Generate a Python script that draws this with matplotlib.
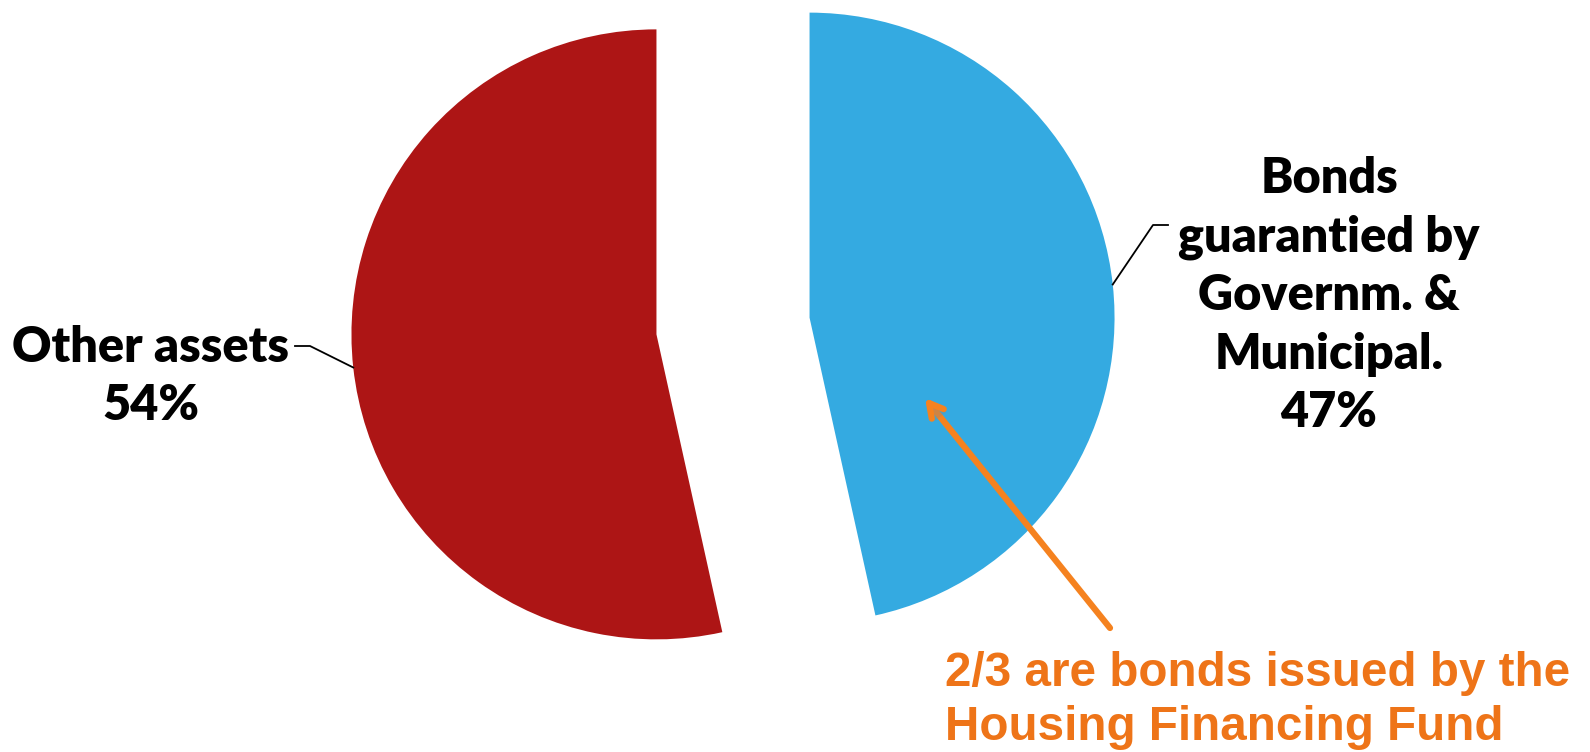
import numpy as np
import matplotlib
matplotlib.use("Agg")
import matplotlib.pyplot as plt
import matplotlib.patheffects as pe

# asset split, in percent
labels = ["Bonds\nguarantied by\nGovernm. &\nMunicipal.", "Other assets"]
values = [47, 54]
colors = ["#34AAE1", "#AD1515"]

note = "2/3 are bonds issued by the\nHousing Financing Fund"

fig = plt.figure(figsize=(15.9, 7.52), dpi=100)
ax = fig.add_axes([0, 0, 1, 1])

# work in pixel units, y pointing down
wedges, _ = ax.pie(values, colors=colors, startangle=-90, counterclock=True,
                   explode=[77, 77], center=(733, 326), radius=305,
                   wedgeprops=dict(linewidth=0))
ax.set_xlim(0, 1590)
ax.set_ylim(752, 0)
ax.set_aspect("equal")
ax.axis("off")

lab_font = dict(family="Lato", weight="heavy", size=35, color="black")


def edge_point(w):
    mid = np.deg2rad((w.theta1 + w.theta2) / 2)
    cx, cy = w.center
    return cx + w.r * np.cos(mid), cy + w.r * np.sin(mid)


# blue slice: leader going up-right to the label block
bx, by = edge_point(wedges[0])
ax.plot([bx, 1153, 1168], [by, 225, 225], color="black", lw=1.3)
ax.text(1329, 427, labels[0] + "\n" + f"{values[0]}%", ha="center",
        va="baseline", linespacing=1.36, **lab_font)

# red slice: leader going left
rx, ry = edge_point(wedges[1])
ax.plot([rx, 310, 295], [ry, 346, 346], color="black", lw=1.3)
ax.text(151, 420, labels[1] + "\n" + f"{values[1]}%", ha="center",
        va="baseline", linespacing=1.36, **lab_font)

# orange call-out
arr = ax.annotate("", xy=(925, 398), xytext=(1110, 628),
                  arrowprops=dict(arrowstyle="->,head_length=1.0,head_width=0.55",
                                  color="#F5821F", lw=4.5,
                                  shrinkA=0, shrinkB=0))
arr.arrow_patch.set_path_effects([
    pe.SimplePatchShadow(offset=(2, -2), shadow_rgbFace="#888888", alpha=0.35),
    pe.Normal()])
ax.text(945, 740, note, ha="left", va="baseline", linespacing=1.25,
        family="Liberation Sans", weight="bold", size=34.3, color="#EE7418")

plt.savefig("out.png", dpi=100)
